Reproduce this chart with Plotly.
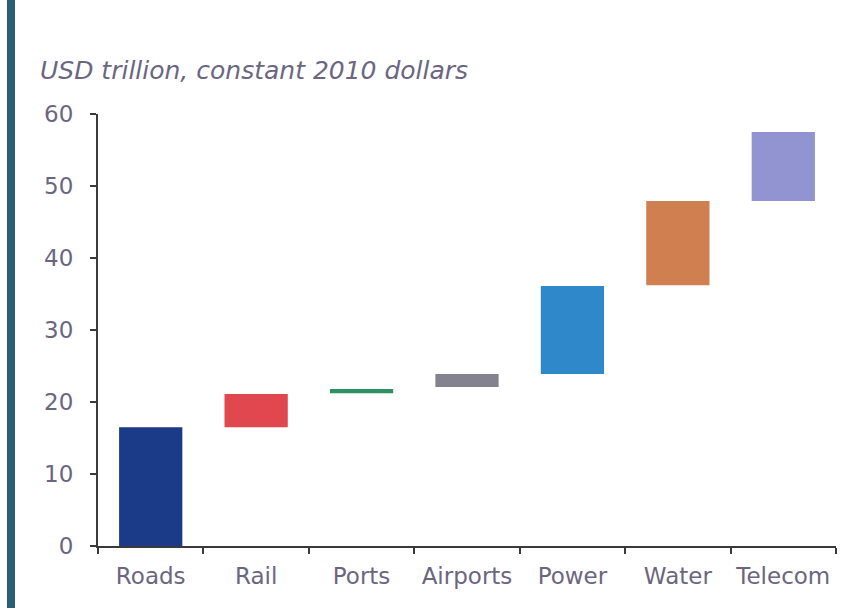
import plotly.graph_objects as go

categories = ["Roads", "Rail", "Ports", "Airports", "Power", "Water", "Telecom"]
starts = [0, 16.5, 21.2, 22.1, 23.9, 36.2, 47.9]
ends = [16.5, 21.1, 21.8, 23.9, 36.1, 47.9, 57.5]
colors = ["#1b3a88", "#e0474e", "#2e9062", "#85828f", "#2f88c9", "#d07f51", "#9194d0"]
y_ticks = [0, 10, 20, 30, 40, 50, 60]

text_color = "#6b6680"
font_family = "DejaVu Sans"

heights = [e - s for s, e in zip(starts, ends)]

fig = go.Figure()
fig.add_trace(go.Bar(
    x=categories,
    y=heights,
    base=starts,
    marker=dict(color=colors, line=dict(width=0)),
    width=0.6,
    showlegend=False,
))

W, H = 842, 608
left, right, top, bottom = 98, 6, 114, 62

fig.update_layout(
    width=W, height=H,
    margin=dict(l=left, r=right, t=top, b=bottom),
    paper_bgcolor="white",
    plot_bgcolor="white",
    font=dict(family=font_family, color=text_color, size=22),
    bargap=0.4,
)
fig.update_xaxes(
    showgrid=False, zeroline=False,
    showline=True, linecolor="#3a3a3a", linewidth=2,
    ticks="outside", ticklen=6, tickcolor="#3a3a3a", tickwidth=2,
    tickson="boundaries",
    tickfont=dict(size=23, color=text_color),
    ticklabelstandoff=8,
    range=[-0.5, 6.5],
)
fig.update_yaxes(
    range=[0, 60],
    tickvals=y_ticks,
    showgrid=False, zeroline=False,
    showline=True, linecolor="#3a3a3a", linewidth=2,
    ticks="outside", ticklen=6, tickcolor="#3a3a3a", tickwidth=2,
    tickfont=dict(size=23, color=text_color),
    ticklabelstandoff=12,
)

# left teal border strip
fig.add_shape(type="rect", xref="paper", yref="paper",
              x0=-(left - 7) / (W - left - right), x1=-(left - 15) / (W - left - right),
              y0=-bottom / (H - top - bottom), y1=1 + top / (H - top - bottom),
              fillcolor="#2a5e78", line=dict(width=0), layer="above")

fig.add_annotation(
    xref="paper", yref="paper",
    x=-(left - 38) / (W - left - right), y=1 + (top - 70) / (H - top - bottom),
    xanchor="left", yanchor="middle",
    text="<i>USD trillion, constant 2010 dollars</i>",
    showarrow=False,
    font=dict(size=25, color=text_color, family=font_family),
)

fig.write_html("out.html")
